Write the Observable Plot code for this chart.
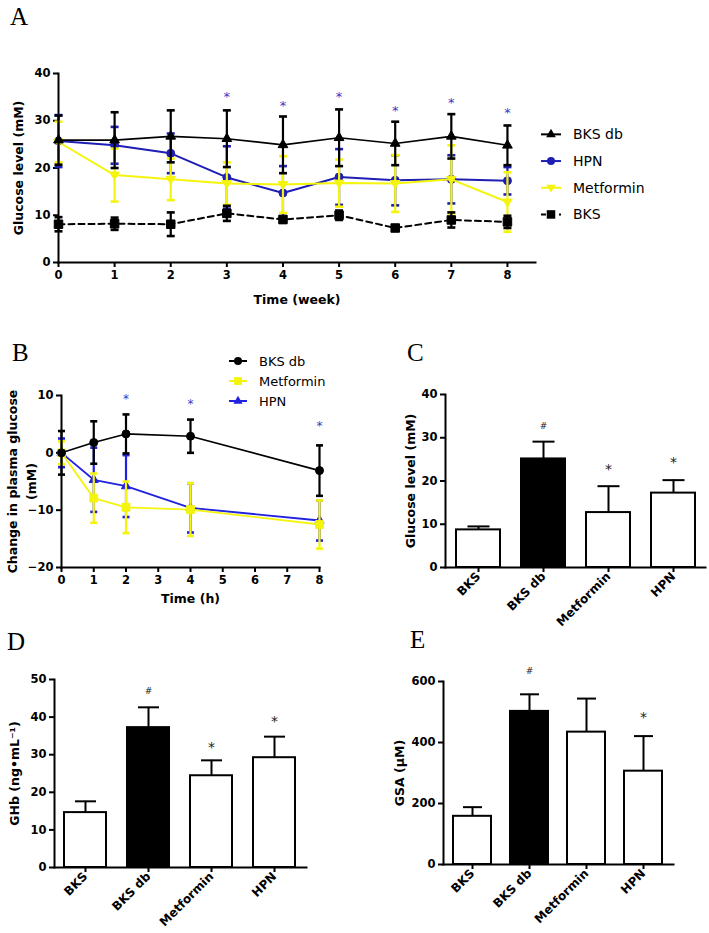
<!DOCTYPE html>
<html><head><meta charset="utf-8">
<script src="https://cdn.jsdelivr.net/npm/d3@7"></script>
<script src="https://cdn.jsdelivr.net/npm/@observablehq/plot@0.6"></script>
<style>
body{margin:0;background:#fff;}
#fig{position:relative;width:709px;height:933px;overflow:hidden;background:#fff;font-family:"DejaVu Sans",sans-serif;color:#000;}
.panel{position:absolute;}
.panel svg{overflow:visible;}
.letter{position:absolute;font-family:"Liberation Serif","Times New Roman",serif;font-size:25px;line-height:1;}
.leg{position:absolute;}
svg [aria-label="y-axis label"], svg [aria-label="x-axis label"]{font-size:12.5px;}
svg.barplot [aria-label="x-axis tick label"]{font-size:12px;}
</style></head><body><div id="fig"></div><script>
// ---------- DATA ----------
// Panel A: glucose level over weeks
const weeks = [0, 1, 2, 3, 4, 5, 6, 7, 8];
const bksdbA = [25.9, 25.9, 26.7, 26.2, 24.9, 26.4, 25.2, 26.7, 24.8];
const bksdbAErr = [5.2, 5.9, 5.5, 6.0, 6.0, 6.0, 4.6, 4.7, 4.2];
const hpnA = [25.7, 24.8, 23.1, 18.0, 14.7, 18.1, 17.4, 17.6, 17.3];
const hpnAErr = [5.5, 3.9, 4.2, 6.6, 5.7, 5.9, 5.3, 5.1, 2.9];
const metA = [25.5, 18.5, 17.6, 16.7, 16.5, 16.8, 16.7, 17.6, 12.8];
const metAErr = [4.3, 5.6, 4.4, 4.5, 6.0, 5.0, 6.0, 7.2, 6.3];
const bksA = [8.1, 8.2, 8.1, 10.4, 9.1, 10.0, 7.3, 9.0, 8.6];
const bksAErr = [1.5, 1.3, 2.5, 1.6, 0.7, 1.0, 0.5, 1.6, 1.3];
const starWeeksA = [3, 4, 5, 6, 7, 8];
const starYA = [36.0, 34.0, 36.0, 33.0, 34.6, 32.6];
const yTicksA = [0, 10, 20, 30, 40];

// Panel B: change in plasma glucose over hours
const hours = [0, 1, 2, 4, 8];
const bksdbB = [0, 1.8, 3.3, 2.9, -3.1];
const bksdbBErr = [3.8, 3.7, 3.4, 2.9, 4.4];
const metB = [0, -7.9, -9.5, -9.9, -12.5];
const metBErr = [2.0, 4.3, 4.5, 4.6, 4.2];
const hpnB = [0, -4.7, -5.8, -9.6, -11.8];
const hpnBErr = [2.5, 5.6, 5.4, 4.3, 3.5];
const starHoursB = [2, 4, 8];
const starYB = [10.0, 9.2, 5.3];
const xTicksB = [0, 1, 2, 3, 4, 5, 6, 7, 8];
const yTicksB = [-20, -10, 0, 10];

// Bar panels
const groups = ["BKS", "BKS db", "Metformin", "HPN"];
const glucC = [8.7, 25.1, 12.7, 17.2];
const glucCErr = [0.8, 4.0, 6.1, 3.0];
const marksC = ["", "#", "*", "*"];
const marksCY = [null, 32.6, 23.5, 25.2];
const yTicksC = [0, 10, 20, 30, 40];

const ghbD = [14.6, 37.2, 24.4, 29.2];
const ghbDErr = [3.0, 5.4, 4.1, 5.6];
const marksD = ["", "#", "*", "*"];
const marksDY = [null, 47, 33, 40];
const yTicksD = [0, 10, 20, 30, 40, 50];

const gsaE = [158, 502, 434, 306];
const gsaEErr = [30, 56, 110, 115];
const marksE = ["", "#", "", "*"];
const marksEY = [null, 634, null, 496];
const yTicksE = [0, 200, 400, 600];

// ---------- STYLE / HELPERS ----------
const BLUE_A = "#1e1eb4", BLUE_B = "#2121e0", YEL = "#f4f40c", STAR_BLUE = "#3a3ac4";
const FONT = '"DejaVu Sans", sans-serif';
const baseStyle = {fontFamily: FONT, fontSize: "11.5px", fontWeight: "bold", color: "black", background: "transparent", overflow: "visible"};
const capSym = {draw(ctx, size) { const r = Math.sqrt(size / Math.PI); ctx.moveTo(-r, 0); ctx.lineTo(r, 0); }};
const invTri = {draw(ctx, size) { const r = Math.sqrt(size / Math.PI); ctx.moveTo(-r * 1.2, -r * 0.75); ctx.lineTo(r * 1.2, -r * 0.75); ctx.lineTo(0, r * 1.2); ctx.closePath(); }};

const fig = document.getElementById("fig");
function place(el, left, top) { const d = document.createElement("div"); d.className = "panel"; d.style.left = left + "px"; d.style.top = top + "px"; d.appendChild(el); fig.appendChild(d); }
function letter(t, left, top) { const d = document.createElement("div"); d.className = "letter"; d.textContent = t; d.style.left = left + "px"; d.style.top = top + "px"; fig.appendChild(d); }

function seriesMarks(xs, s, capR) {
  const d = xs.map((x, i) => ({x, v: s.v[i], e: s.e[i]}));
  return [
    Plot.ruleX(d, {x: "x", y1: q => q.v - q.e, y2: q => q.v + q.e, stroke: s.color, strokeWidth: 2.2}),
    Plot.dot(d, {x: "x", y: q => q.v - q.e, symbol: capSym, r: capR, stroke: s.color, strokeWidth: 2.6, fill: "none"}),
    Plot.dot(d, {x: "x", y: q => q.v + q.e, symbol: capSym, r: capR, stroke: s.color, strokeWidth: 2.6, fill: "none"}),
    Plot.line(d, {x: "x", y: "v", stroke: s.color, strokeWidth: s.lw, strokeDasharray: s.dash}),
    Plot.dot(d, {x: "x", y: "v", symbol: s.symbol, r: s.r, fill: s.color, stroke: s.color, strokeWidth: 1})
  ];
}

function legend(items, left, top, rowH, lineW, fontSize) {
  const w = 140, h = rowH * items.length;
  const svg = d3.create("svg").attr("width", w).attr("height", h).style("overflow", "visible");
  items.forEach((it, i) => {
    const cy = rowH * i + rowH / 2;
    svg.append("line").attr("x1", 0).attr("x2", lineW).attr("y1", cy).attr("y2", cy)
      .attr("stroke", it.color).attr("stroke-width", 2).attr("stroke-dasharray", it.dash || null);
    svg.append("path").attr("transform", `translate(${lineW / 2},${cy})`)
      .attr("d", d3.symbol(it.symbol, Math.PI * it.r * it.r)()).attr("fill", it.color);
    svg.append("text").attr("x", lineW + 12).attr("y", cy).attr("dy", "0.35em")
      .attr("font-family", FONT).attr("font-size", fontSize).text(it.name);
  });
  const d = document.createElement("div"); d.className = "leg"; d.style.left = left + "px"; d.style.top = top + "px";
  d.appendChild(svg.node()); fig.appendChild(d);
}

// ---------- PANEL A ----------
const seriesA = [
  {name: "HPN", v: hpnA, e: hpnAErr, color: BLUE_A, symbol: "circle", r: 4, lw: 2},
  {name: "Metformin", v: metA, e: metAErr, color: YEL, symbol: invTri, r: 4, lw: 2},
  {name: "BKS db", v: bksdbA, e: bksdbAErr, color: "black", symbol: "triangle", r: 3.6, lw: 1.6},
  {name: "BKS", v: bksA, e: bksAErr, color: "black", symbol: "square", r: 4.8, lw: 2, dash: "6,4"}
];
const plotA = Plot.plot({
  width: 540, height: 250, marginLeft: 58, marginTop: 13, marginBottom: 48, marginRight: 5,
  style: baseStyle,
  x: {domain: [0, 8.5]},
  y: {domain: [0, 40]},
  marks: [
    Plot.frame({anchor: "left", strokeWidth: 2}),
    Plot.frame({anchor: "bottom", strokeWidth: 2}),
    Plot.axisX({ticks: weeks, tickSize: 5, strokeWidth: 2, tickPadding: 3, label: "Time (week)", labelAnchor: "center", labelOffset: 41, labelArrow: "none"}),
    Plot.axisY({ticks: yTicksA, tickSize: 5, strokeWidth: 2, tickPadding: 3, label: "Glucose level (mM)", labelAnchor: "center", labelOffset: 44, labelArrow: "none"}),
    ...seriesA.flatMap(s => seriesMarks(weeks, s, 4)),
    Plot.text(starWeeksA.map((w, i) => ({w, y: starYA[i]})), {x: "w", y: "y", text: () => "*", fill: STAR_BLUE, fontSize: 13, fontWeight: "normal", dy: 4})
  ]
});
place(plotA, 0, 60);
legend([
  {name: "BKS db", color: "black", symbol: d3.symbolTriangle, r: 3.6},
  {name: "HPN", color: BLUE_A, symbol: d3.symbolCircle, r: 4},
  {name: "Metformin", color: YEL, symbol: invTri, r: 4},
  {name: "BKS", color: "black", symbol: d3.symbolSquare, r: 4.8, dash: "5,4"}
], 541, 121, 26.7, 20, 14);
letter("A", 10, 4);

// ---------- PANEL B ----------
const seriesB = [
  {name: "HPN", v: hpnB, e: hpnBErr, color: BLUE_B, symbol: "triangle", r: 3.4, lw: 1.8},
  {name: "Metformin", v: metB, e: metBErr, color: YEL, symbol: "square", r: 4.4, lw: 1.8},
  {name: "BKS db", v: bksdbB, e: bksdbBErr, color: "black", symbol: "circle", r: 4, lw: 1.6}
];
const plotB = Plot.plot({
  width: 330, height: 225, marginLeft: 61, marginTop: 15, marginBottom: 38, marginRight: 11,
  style: baseStyle,
  x: {domain: [0, 8]},
  y: {domain: [-20, 10]},
  marks: [
    Plot.frame({anchor: "left", strokeWidth: 2}),
    Plot.frame({anchor: "bottom", strokeWidth: 2}),
    Plot.axisX({ticks: xTicksB, tickSize: 5, strokeWidth: 2, tickPadding: 3, label: "Time (h)", labelAnchor: "center", labelOffset: 35, labelArrow: "none"}),
    Plot.axisY({ticks: yTicksB, tickSize: 5, strokeWidth: 2, tickPadding: 3, label: null}),
    Plot.text(["Change in plasma glucose\n(mM)"], {frameAnchor: "left", text: d => d, rotate: -90, dx: -58, lineAnchor: "top", lineHeight: 1.5, fontSize: 12.5, textAnchor: "middle"}),
    ...seriesB.flatMap(s => seriesMarks(hours, s, 3.5)),
    Plot.text(starHoursB.map((h, i) => ({h, y: starYB[i]})), {x: "h", y: "y", text: () => "*", fill: STAR_BLUE, fontSize: 12, fontWeight: "normal", dy: 4})
  ]
});
place(plotB, 0, 380);
legend([
  {name: "BKS db", color: "black", symbol: d3.symbolCircle, r: 4},
  {name: "Metformin", color: YEL, symbol: d3.symbolSquare, r: 4.4},
  {name: "HPN", color: BLUE_B, symbol: d3.symbolTriangle, r: 3.4}
], 229, 351, 20, 18, 13);
letter("B", 12, 340);

// ---------- BAR PANELS ----------
function barPanel(o) {
  const d = groups.map((g, i) => ({g, v: o.values[i], e: o.errs[i], t: o.marks[i], ty: o.marksY[i]}));
  return Plot.plot({
    className: "barplot",
    width: o.w, height: o.h, marginLeft: o.ml, marginTop: o.mt, marginBottom: o.mb, marginRight: o.mr,
    style: baseStyle,
    x: {domain: groups, paddingInner: 0.33, paddingOuter: 0.165},
    y: {domain: o.yDomain},
    marks: [
      Plot.ruleX(d, {x: "g", y1: "v", y2: q => q.v + q.e, strokeWidth: 2}),
      Plot.dot(d, {x: "g", y: q => q.v + q.e, symbol: capSym, r: o.capR, stroke: "black", strokeWidth: 2, fill: "none"}),
      Plot.barY(d, {x: "g", y: "v", fill: q => q.g === "BKS db" ? "black" : "white", stroke: "black", strokeWidth: 2}),
      Plot.frame({anchor: "left", strokeWidth: 2}),
      Plot.frame({anchor: "bottom", strokeWidth: 2}),
      Plot.axisX({tickSize: 5, strokeWidth: 2, tickPadding: 2, tickRotate: -45, label: null}),
      Plot.axisY({ticks: o.yTicks, tickSize: 5, strokeWidth: 2, tickPadding: 3, label: o.label, labelAnchor: "center", labelOffset: o.lo, labelArrow: "none"}),
      Plot.text(d.filter(q => q.t === "*"), {x: "g", y: "ty", text: "t", fontSize: 14, fontWeight: "normal", fill: "#222", dy: 4}),
      Plot.text(d.filter(q => q.t === "#"), {x: "g", y: "ty", text: "t", fontSize: 9, fontWeight: "normal", fill: "#222"})
    ]
  });
}
place(barPanel({values: glucC, errs: glucCErr, marks: marksC, marksY: marksCY, yDomain: [0, 40], yTicks: yTicksC,
  label: "Glucose level (mM)", lo: 39, w: 349, h: 240, ml: 85, mt: 14, mb: 53, mr: 4, capR: 11}), 360, 380);
letter("C", 407, 340);

place(barPanel({values: ghbD, errs: ghbDErr, marks: marksD, marksY: marksDY, yDomain: [0, 50], yTicks: yTicksD,
  label: "GHb (ng•mL⁻¹)", lo: 44, w: 340, h: 273, ml: 54, mt: 19, mb: 66, mr: 34, capR: 10.5}), 0, 660);
letter("D", 7, 629);

place(barPanel({values: gsaE, errs: gsaEErr, marks: marksE, marksY: marksEY, yDomain: [0, 600], yTicks: yTicksE,
  label: "GSA (μM)", lo: 48, w: 349, h: 273, ml: 83, mt: 21, mb: 69, mr: 36, capR: 9.5}), 360, 660);
letter("E", 410, 627);
</script></body></html>
